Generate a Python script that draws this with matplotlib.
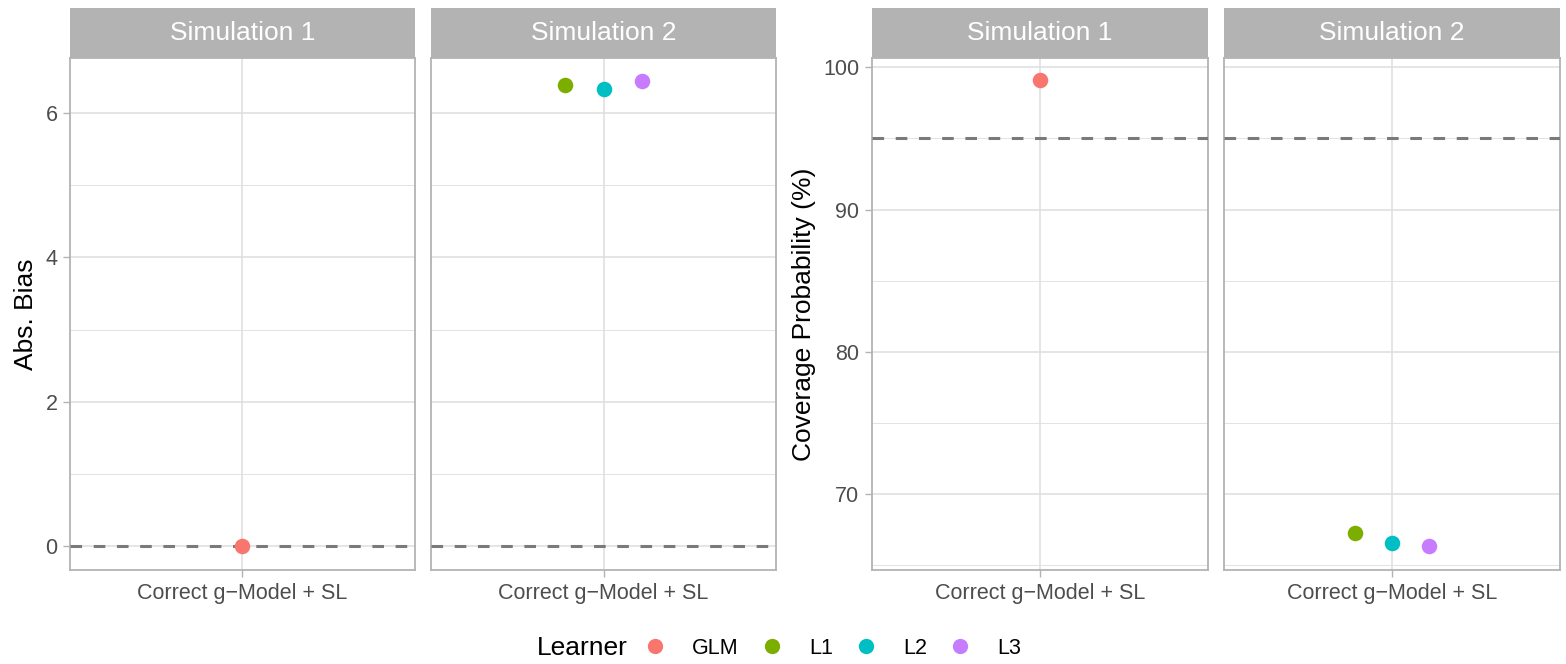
import matplotlib
matplotlib.use("Agg")
import matplotlib.pyplot as plt
from matplotlib.lines import Line2D
import numpy as np

plt.rcParams['font.family'] = ['Liberation Sans', 'DejaVu Sans']

# data
learners = ['GLM', 'L1', 'L2', 'L3']
colors = ['#F8766D', '#7CAE00', '#00BFC4', '#C77CFF']
category = 'Correct g\u2212Model + SL'

# Simulation 1 only has GLM, Simulation 2 has L1-L3
sim1_learners = ['GLM']
sim2_learners = ['L1', 'L2', 'L3']
bias_sim1 = [0.0]
bias_sim2 = [6.39, 6.33, 6.44]
cover_sim1 = [99.1]
cover_sim2 = [67.3, 66.6, 66.35]

bias_ref = 0
cover_ref = 95

W, H = 1566, 664
fig = plt.figure(figsize=(W / 100, H / 100), dpi=100)

GRID = '#DEDEDE'
BORDER = '#B3B3B3'
TICKCOL = '#4D4D4D'


def px_axes(x0, y0, x1, y1):
    return fig.add_axes([x0 / W, (H - y1) / H, (x1 - x0) / W, (y1 - y0) / H])


def draw_panel(x0, x1, title, names, values, ref, ylim, major, minor, show_y):
    ax = px_axes(x0, 58, x1, 570)
    strip = px_axes(x0, 8, x1, 58)
    strip.set_facecolor(BORDER)
    strip.set_xticks([])
    strip.set_yticks([])
    for s in strip.spines.values():
        s.set_visible(False)
    strip.text(0.5, 0.5, title, color='white', fontsize=19,
               ha='center', va='center', transform=strip.transAxes)

    # one discrete category at x = 1, dodged by width 0.4
    n = len(names)
    offsets = (np.arange(n) - (n - 1) / 2) * 0.4 / 3 if n > 1 else [0.0]
    for nm, v, off in zip(names, values, offsets):
        ax.scatter(1 + off, v, s=125, color=colors[learners.index(nm)],
                   zorder=4, linewidths=0)
    ax.axhline(ref, color='#7A7A7A', linestyle=(0, (3.8, 3.8)), linewidth=2.2, zorder=3)

    ax.set_xlim(0.4, 1.6)
    ax.set_ylim(*ylim)
    ax.set_xticks([1])
    ax.set_xticklabels([category])
    ax.set_yticks(major)
    ax.set_yticks(minor, minor=True)
    ax.grid(True, which='major', color=GRID, linewidth=1.1, zorder=0)
    ax.grid(True, which='minor', axis='y', color=GRID, linewidth=0.6, zorder=0)
    ax.set_axisbelow(True)
    ax.tick_params(axis='both', which='major', colors=BORDER, labelcolor=TICKCOL,
                   labelsize=15.5, length=5, width=1, pad=4)
    ax.tick_params(axis='y', which='minor', length=0)
    if not show_y:
        ax.tick_params(axis='y', which='major', length=0, labelleft=False)
    for s in ax.spines.values():
        s.set_color(BORDER)
        s.set_linewidth(1.3)
    return ax


bias_lim = (-0.33, 6.76)
a1 = draw_panel(70, 415, 'Simulation 1', sim1_learners, bias_sim1, bias_ref,
                bias_lim, [0, 2, 4, 6], [1, 3, 5], True)
a2 = draw_panel(431, 776, 'Simulation 2', sim2_learners, bias_sim2, bias_ref,
                bias_lim, [0, 2, 4, 6], [1, 3, 5], False)
a1.set_ylabel('Abs. Bias', fontsize=19, labelpad=5)

cov_lim = (64.68, 100.65)
b1 = draw_panel(872, 1208, 'Simulation 1', sim1_learners, cover_sim1, cover_ref,
                cov_lim, [70, 80, 90, 100], [65, 75, 85, 95], True)
b2 = draw_panel(1224, 1560, 'Simulation 2', sim2_learners, cover_sim2, cover_ref,
                cov_lim, [70, 80, 90, 100], [65, 75, 85, 95], False)
b1.set_ylabel('Coverage Probability (%)', fontsize=19, labelpad=5)

# legend at the bottom
handles = [Line2D([], [], marker='o', linestyle='', markersize=11,
                  markerfacecolor=c, markeredgewidth=0) for c in colors]
fig.text(537 / W, 1 - 648 / H, 'Learner', fontsize=19, ha='left', va='center')
fig.legend(handles, learners, ncol=4, frameon=False, fontsize=15.5,
           loc='center left', bbox_to_anchor=(644 / W, 1 - 648 / H),
           handlelength=1.0, handletextpad=1.22, columnspacing=1.05,
           borderaxespad=0, borderpad=0)

fig.savefig('out.png', dpi=100)
